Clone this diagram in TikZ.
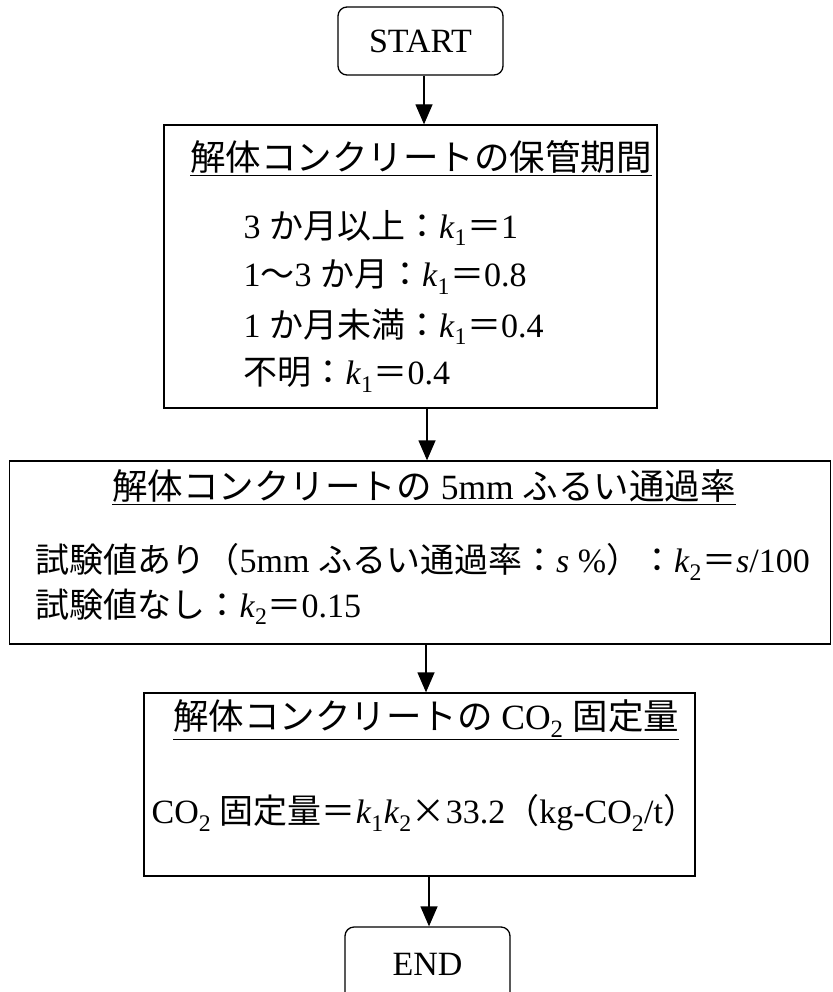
\documentclass[tikz,border=0pt]{standalone}
\usepackage{fontspec}
\setmainfont{Liberation Serif}
\newfontfamily\cjk{Noto Sans CJK JP}
\usetikzlibrary{arrows.meta}
\newcommand\J[1]{{\cjk #1}}
\newcommand\kv[1]{\textit{k}\textsubscript{#1}}
\begin{document}
\begin{tikzpicture}[x=1pt,y=-1pt,line width=1.3pt,
  every node/.style={font=\fontsize{34}{40}\selectfont,inner sep=0pt},
  titletext/.style={font=\fontsize{35.5}{40}\selectfont},
  termbox/.style={draw,rectangle,rounded corners=9pt,minimum width=165pt,minimum height=68pt},
  stepbox/.style={draw,rectangle},
  arr/.style={-{Triangle[length=20pt,width=17pt]}}]
\path[use as bounding box] (0,0) rectangle (832,992);
\clip (0,0) rectangle (832,992);
% terminals
\node[termbox] (start) at (420.5,41) {START};
\node[termbox,minimum height=74pt] (end) at (427.5,964) {END};
% box 1
\node[stepbox,minimum width=493pt,minimum height=283pt] (b1) at (410.5,266.5) {};
\node[titletext] (t1) at (421,158) {\underline{\J{解体コンクリートの保管期間}}};
\node[anchor=west] (l11) at (243,228) {3 \J{か月以上：}\kv1\J{＝}1};
\node[anchor=west] (l12) at (243,277) {1\J{〜}3 \J{か月：}\kv1\J{＝}0.8};
\node[anchor=west] (l13) at (243,327) {1 \J{か月未満：}\kv1\J{＝}0.4};
\node[anchor=west] (l14) at (243,375) {\J{不明：}\kv1\J{＝}0.4};
% box 2
\node[stepbox,minimum width=821pt,minimum height=183pt] (b2) at (420,552.5) {};
\node[titletext] (t2) at (424,487) {\underline{\J{解体コンクリートの} 5mm \J{ふるい通過率}}};
\node[anchor=west] (l21) at (35,562) {\J{試験値あり（}5mm \J{ふるい通過率：}\textit{s} \%\J{）：}\kv2\J{＝}\textit{s}/100};
\node[anchor=west] (l22) at (35,607) {\J{試験値なし：}\kv2\J{＝}0.15};
% box 3
\node[stepbox,minimum width=551pt,minimum height=183pt] (b3) at (419.5,784.5) {};
\node[titletext] (t3) at (426,720) {\underline{\J{解体コンクリートの} CO\textsubscript{2} \J{固定量}}};
\node[anchor=west] (l31) at (151,813) {CO\textsubscript{2} \J{固定量＝}\kv1\kv2\J{×}33.2\J{（}kg-CO\textsubscript{2}/t\J{）}};
% connectors
\draw[arr] ([xshift=3.5pt]start.south) -- ([xshift=3.5pt]start.south |- b1.north);
\draw[arr] ([xshift=16.5pt]b1.south) -- ([xshift=16.5pt]b1.south |- b2.north);
\draw[arr] ([xshift=6pt]b2.south) -- ([xshift=6pt]b2.south |- b3.north);
\draw[arr] ([xshift=9.5pt]b3.south) -- ([xshift=9.5pt]b3.south |- end.north);
\end{tikzpicture}
\end{document}
